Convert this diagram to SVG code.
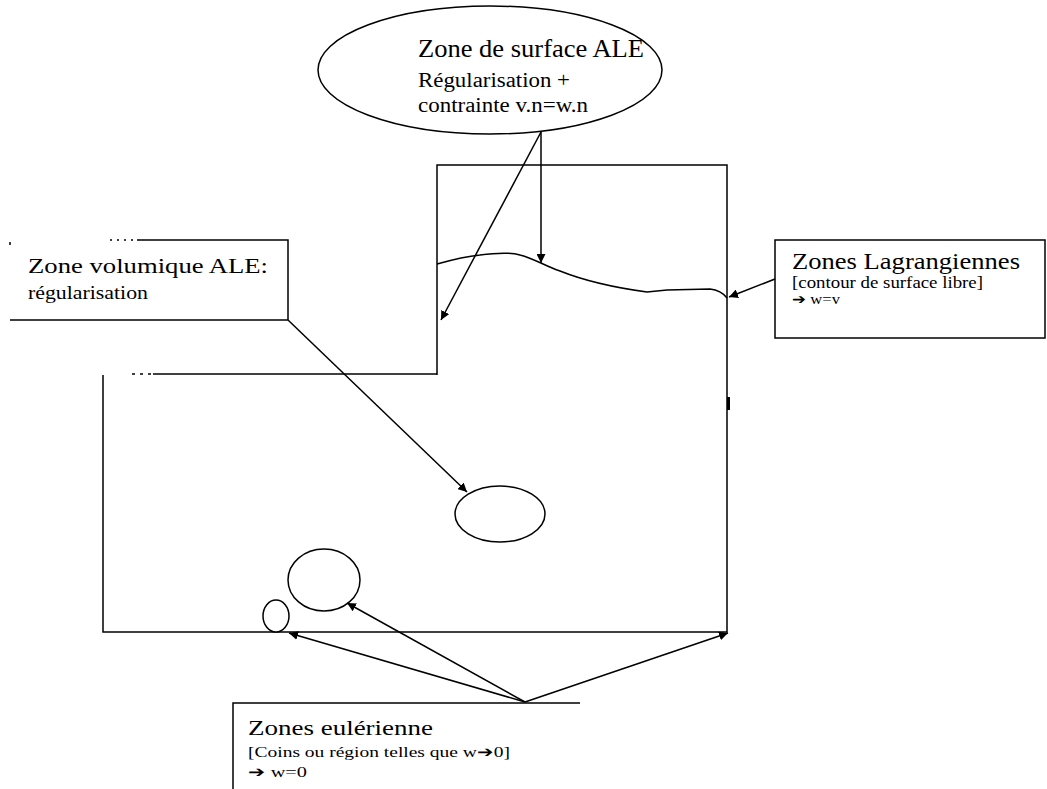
<svg xmlns="http://www.w3.org/2000/svg" width="1047" height="789" viewBox="0 0 1047 789">
<style>
.ln{fill:none;stroke:#000;stroke-width:1.5}
.sh{fill:#fff;stroke:#000;stroke-width:1.5}
.t{font-family:"Liberation Serif","Times New Roman",serif;fill:#000}
</style>
<defs>
<marker id="ah" viewBox="0 0 10 10" refX="10" refY="5" markerWidth="9" markerHeight="9" markerUnits="userSpaceOnUse" orient="auto">
<path d="M0,0 L10,5 L0,10 z" fill="#000"/>
</marker>
</defs>
<rect width="1047" height="789" fill="#fff"/>
<g id="domain">
<path class="ln" d="M437,375 V165 H727 V632 H103 V375"/>
<path class="ln" d="M153,374 H437"/>
<path class="ln" stroke-dasharray="3,5" d="M132,374 H153"/>
<path d="M727,397 h3 v13 h-3 z" fill="#000"/>
<path class="ln" d="M437,264 C455,259 470,256 480,255 C495,253 510,252 520,255 C535,259 545,266 560,271 C580,279 610,287 647,292 L667,290 L710,289 C720,290 724,294 727,298"/>
</g>
<g id="ellipse-central"><ellipse class="sh" cx="500" cy="514" rx="45" ry="28"/></g>
<g id="ellipse-medium"><ellipse class="sh" cx="324" cy="580" rx="36" ry="31"/></g>
<g id="ellipse-small"><ellipse class="sh" cx="276" cy="616" rx="13" ry="16"/></g>
<g id="surface-ale">
<ellipse class="sh" cx="490" cy="70" rx="172" ry="64"/>
<text class="t" x="418" y="57" font-size="25" textLength="226" lengthAdjust="spacingAndGlyphs">Zone de surface ALE</text>
<text class="t" x="418" y="87" font-size="20" textLength="152" lengthAdjust="spacingAndGlyphs">Régularisation +</text>
<text class="t" x="418" y="112" font-size="20" textLength="170" lengthAdjust="spacingAndGlyphs">contrainte v.n=w.n</text>
</g>
<g id="volume-ale">
<path class="ln" d="M137,240 H288 V320 H10"/>
<path class="ln" stroke-dasharray="2,5" d="M110,240 H137"/>
<path class="ln" d="M10,242 v3"/>
<text class="t" x="28" y="273" font-size="22" textLength="240" lengthAdjust="spacingAndGlyphs">Zone volumique ALE:</text>
<text class="t" x="28" y="299" font-size="18" textLength="120" lengthAdjust="spacingAndGlyphs">régularisation</text>
</g>
<g id="lagrange">
<rect class="sh" x="775" y="240" width="270" height="98"/>
<text class="t" x="792" y="269" font-size="24" textLength="228" lengthAdjust="spacingAndGlyphs">Zones Lagrangiennes</text>
<text class="t" x="792" y="288" font-size="16" textLength="191" lengthAdjust="spacingAndGlyphs">[contour de surface libre]</text>
<text class="t" x="792" y="304" font-size="14" textLength="48" lengthAdjust="spacingAndGlyphs">➔ w=v</text>
</g>
<g id="euler">
<path class="ln" d="M233,789 V703 H580"/>
<text class="t" x="248" y="735" font-size="22" textLength="185" lengthAdjust="spacingAndGlyphs">Zones eulérienne</text>
<text class="t" x="248" y="757" font-size="15" textLength="262" lengthAdjust="spacingAndGlyphs">[Coins ou région telles que w➔0]</text>
<text class="t" x="248" y="777" font-size="15" textLength="59" lengthAdjust="spacingAndGlyphs">➔ w=0</text>
</g>
<g id="connectors">
<line class="ln" x1="541" y1="132" x2="541" y2="263" marker-end="url(#ah)"/>
<line class="ln" x1="541" y1="132" x2="441" y2="320" marker-end="url(#ah)"/>
<line class="ln" x1="288" y1="320" x2="467" y2="492" marker-end="url(#ah)"/>
<line class="ln" x1="775" y1="279" x2="729" y2="297" marker-end="url(#ah)"/>
<line class="ln" x1="525" y1="702" x2="728" y2="633" marker-end="url(#ah)"/>
<line class="ln" x1="525" y1="702" x2="347" y2="603" marker-end="url(#ah)"/>
<line class="ln" x1="525" y1="702" x2="289" y2="633" marker-end="url(#ah)"/>
</g>
</svg>
